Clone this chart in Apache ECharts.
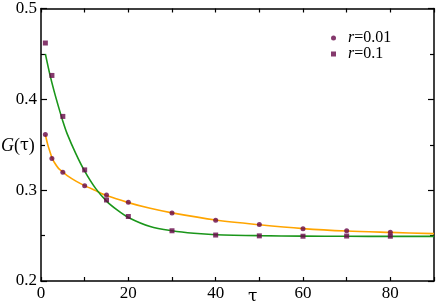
<!DOCTYPE html>
<html>
<head>
<meta charset="utf-8">
<script src="https://cdn.jsdelivr.net/npm/echarts@6/dist/echarts.min.js"></script>
<style>
  html, body { margin: 0; padding: 0; background: #fff; }
  #chart { width: 436px; height: 304px; }
</style>
</head>
<body>
<div id="chart"></div>
<script>
// sample points (tau) and measured G(tau)
var tauPts = [1, 2.5, 5, 10, 15, 20, 30, 40, 50, 60, 70, 80]
var gSmallR = [0.3613, 0.335, 0.3198, 0.3048, 0.2946, 0.2866, 0.275, 0.2669, 0.2622, 0.2575, 0.2553, 0.2538]
var gLargeR = [0.462, 0.4263, 0.3812, 0.3223, 0.2892, 0.271, 0.2553, 0.2506, 0.2497, 0.2493, 0.2495, 0.2493]

// fitted curves
var tauOrange = [1, 1.5, 2, 2.5, 3, 4, 5, 6, 8, 10, 12.5, 15, 20, 25, 30, 40, 50, 60, 70, 80, 90]
var gOrange = [0.361, 0.351, 0.343, 0.336, 0.331, 0.324, 0.320, 0.316, 0.310, 0.305, 0.2995, 0.294, 0.2863, 0.280, 0.275, 0.2671, 0.2619, 0.2577, 0.2550, 0.2535, 0.2522]
var tauGreen = [1, 2, 3, 4, 5, 6, 8, 10, 12.5, 15, 17.5, 20, 25, 30, 35, 40, 50, 60, 70, 80, 90]
var gGreen = [0.450, 0.428, 0.409, 0.392, 0.376, 0.362, 0.340, 0.321, 0.302, 0.288, 0.278, 0.270, 0.260, 0.2553, 0.2525, 0.251, 0.2499, 0.2494, 0.2492, 0.2491, 0.2491]

var xLabels = [0, 20, 40, 60, 80]

var purple = '#670748'
var serif = 'Liberation Serif, Times New Roman, serif'
var greek = 'DejaVu Serif, serif'

function pairs(xs, ys) {
  return xs.map(function (x, i) { return [x, ys[i]] })
}

var chart = echarts.init(document.getElementById('chart'))

var xBase = {
  type: 'value',
  min: 0,
  max: 90,
  interval: 10,
  splitLine: { show: false },
  axisLine: { show: true, onZero: false, lineStyle: { color: '#000', width: 1.5 } },
  axisTick: { inside: true, length: 4, lineStyle: { color: '#000', width: 1.2 } }
}
var yBase = {
  type: 'value',
  min: 0.2,
  max: 0.5,
  interval: 0.1,
  splitLine: { show: false },
  axisLine: { show: true, onZero: false, lineStyle: { color: '#000', width: 1.5 } },
  axisTick: { inside: true, length: 6, lineStyle: { color: '#000', width: 1.2 } },
  minorTick: { show: true, splitNumber: 2, length: 4, lineStyle: { color: '#000', width: 1.2 } }
}

chart.setOption({
  animation: false,
  grid: { left: 41, right: 2, top: 6, bottom: 23 },
  xAxis: [
    Object.assign({}, xBase, {
      position: 'bottom',
      axisLabel: {
        customValues: xLabels,
        margin: 4,
        color: '#000',
        fontFamily: serif,
        fontSize: 17
      }
    }),
    Object.assign({}, xBase, { position: 'top', axisLabel: { show: false } })
  ],
  yAxis: [
    Object.assign({}, yBase, {
      position: 'left',
      axisLabel: {
        margin: 4,
        color: '#000',
        fontFamily: serif,
        fontSize: 17,
        formatter: function (v) { return v.toFixed(1) }
      }
    }),
    Object.assign({}, yBase, { position: 'right', axisLabel: { show: false } })
  ],
  legend: {
    orient: 'vertical',
    left: 326,
    top: 25,
    itemWidth: 5,
    itemHeight: 5,
    itemGap: 0,
    data: [
      { name: 'r=0.01', icon: 'circle' },
      { name: 'r=0.1', icon: 'rect' }
    ],
    formatter: function (name) { return '{i|r}' + name.slice(1) },
    textStyle: {
      color: '#000',
      fontFamily: serif,
      fontSize: 16,
      lineHeight: 15,
      padding: [0, 0, 0, 7],
      rich: {
        i: { fontStyle: 'italic', fontFamily: serif, fontSize: 16, color: '#000' }
      }
    }
  },
  graphic: [
    {
      type: 'text',
      left: 1,
      top: 137,
      style: {
        text: '{i|G}({t|τ})',
        fontFamily: serif,
        fontSize: 18,
        fill: '#000',
        rich: {
          i: { fontStyle: 'italic', fontFamily: serif, fontSize: 18 },
          t: { fontFamily: greek, fontSize: 16 }
        }
      }
    },
    {
      type: 'text',
      left: 248,
      top: 288,
      style: { text: 'τ', fontFamily: greek, fontSize: 17, fill: '#000' }
    }
  ],
  series: [
    {
      name: 'fit-small',
      type: 'line',
      data: pairs(tauOrange, gOrange),
      smooth: 0.3,
      showSymbol: false,
      lineStyle: { color: '#ffa500', width: 1.6 },
      z: 2
    },
    {
      name: 'fit-large',
      type: 'line',
      data: pairs(tauGreen, gGreen),
      smooth: 0.3,
      showSymbol: false,
      lineStyle: { color: '#1a961a', width: 1.6 },
      z: 2
    },
    {
      name: 'r=0.01',
      type: 'scatter',
      symbol: 'circle',
      symbolSize: 5,
      data: pairs(tauPts, gSmallR),
      itemStyle: { color: purple },
      z: 3
    },
    {
      name: 'r=0.1',
      type: 'scatter',
      symbol: 'rect',
      symbolSize: 5,
      data: pairs(tauPts, gLargeR),
      itemStyle: { color: purple },
      z: 3
    }
  ]
})
</script>
</body>
</html>
